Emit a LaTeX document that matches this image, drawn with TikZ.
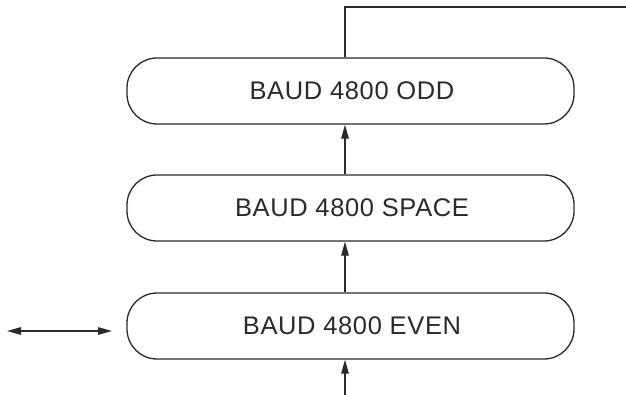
\documentclass[tikz,border=0pt]{standalone}
\usepackage{fontspec}
\setmainfont{Liberation Sans}
\newfontfamily\boxfont[LetterSpace=2.5]{Liberation Sans}
\usetikzlibrary{arrows.meta}
\definecolor{ink}{HTML}{2A2A2A}
\tikzset{
  baudbox/.style={draw=ink, line width=1.3pt, rectangle, rounded corners=30pt,
    minimum width=447pt, minimum height=66pt, inner sep=0pt,
    font=\boxfont\fontsize{25.5}{28}\selectfont, text=ink},
  conn/.style={draw=ink, line width=1.2pt},
  arr/.style={conn, -{Triangle[length=14pt,width=7.5pt]}},
  darr/.style={conn, {Triangle[length=14pt,width=7.5pt]}-{Triangle[length=14pt,width=7.5pt]}}
}
\begin{document}
\begin{tikzpicture}[x=1pt,y=-1pt]
\useasboundingbox (0,0) rectangle (626,395);
\node[baudbox] (odd) at (350.5,91) {\hspace{3pt}BAUD 4800 ODD};
\node[baudbox] (space) at (350.5,208) {\hspace{3pt}BAUD 4800 SPACE};
\node[baudbox] (even) at (350.5,326) {\hspace{3pt}BAUD 4800 EVEN};
\coordinate (topbend) at (345,7);
\coordinate (topend) at (626,7);
\coordinate (botin) at (345,395);
\coordinate (lefta) at (7,331);
\coordinate (leftb) at (112,331);
\draw[conn] (odd.north -| topbend) -- (topbend) -- (topend);
\draw[arr] (space.north -| topbend) -- (odd.south -| topbend);
\draw[arr] (even.north -| topbend) -- (space.south -| topbend);
\draw[arr] (botin) -- (even.south -| botin);
\draw[darr] (lefta) -- (leftb);
\end{tikzpicture}
\end{document}
